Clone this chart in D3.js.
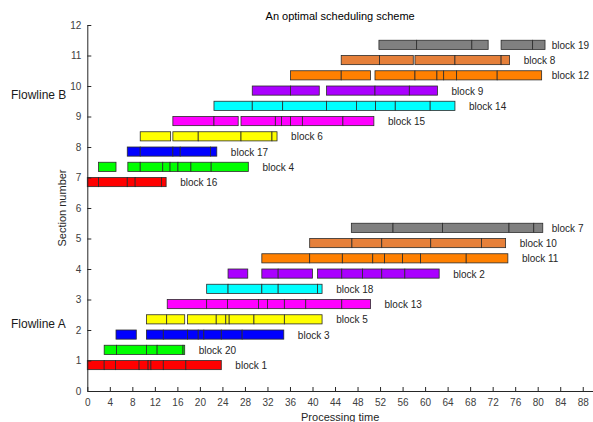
<!DOCTYPE html>
<html>
<head>
<meta charset="utf-8">
<script src="https://cdn.jsdelivr.net/npm/d3@7"></script>
<style>
  body { margin: 0; background: #fff; }
  svg { font-family: "Liberation Sans", Arial, sans-serif; }
</style>
</head>
<body>
<div id="chart"></div>
<script>
// block ids in drawing order, the row each one sits on, and its colour
const blockIds = [1, 20, 3, 5, 13, 18, 2, 11, 10, 7, 16, 4, 17, 6, 15, 14, 9, 12, 8, 19];
const blockRows = [1, 1.5, 2, 2.5, 3, 3.5, 4, 4.5, 5, 5.5, 7, 7.5, 8, 8.5, 9, 9.5, 10, 10.5, 11, 11.5];
const blockColors = [
  '#ff0000', '#00ff00', '#0000ff', '#ffff00', '#ff00ff', '#00ffff', '#aa00ff', '#ff8000', '#e6803a', '#808080',
  '#ff0000', '#00ff00', '#0000ff', '#ffff00', '#ff00ff', '#00ffff', '#aa00ff', '#ff8000', '#e6803a', '#808080',
];
// each block: list of pieces, each piece is the list of operation boundaries
const blockPieces = [
  [[0, 3, 5, 9.2, 10.8, 11.3, 13.5, 17.5, 23.8]],
  [[3, 5.2, 10.5, 12.4, 17, 17.3]],
  [[5.1, 8.7], [10.5, 13.5, 17.8, 19.7, 20.7, 23.8, 27.5, 34.9]],
  [[10.5, 14.1, 17.3], [17.8, 22.9, 24.6, 25.2, 29.6, 35, 41.7]],
  [[14.2, 21.2, 24.9, 30.4, 32, 35, 38.8, 45.2, 50.3]],
  [[21.2, 25, 31, 33.9, 40.9, 41.7]],
  [[25, 28.5], [31, 33.9, 40], [40.9, 45.2, 48.9, 52.3, 56.4, 62.5]],
  [[31, 39.5, 45.3, 50.7, 52.8, 56, 59.2, 67.3, 74.7]],
  [[39.5, 47, 52.3, 61, 70, 74.3]],
  [[46.9, 54.3, 63.1, 74.9, 79.3, 80.9]],
  [[0, 2, 7.1, 8.5, 13.2, 14]],
  [[2, 5.1], [7.2, 9.4, 13.4, 14.7, 16.1, 18.4, 22, 28.6]],
  [[7.1, 9.4, 15.2, 16.5, 21.9, 23]],
  [[9.4, 14.8], [15.2, 19.7, 27.3, 32.8, 33.7]],
  [[15.2, 22.5, 26.8], [27.3, 33.4, 34.5, 36.1, 38.2, 45.4, 50.9]],
  [[22.5, 29.3, 34.7, 42.5, 47.8, 51.2, 54.7, 60.9, 65.3]],
  [[29.3, 36.1, 41.2], [42.5, 51.1, 57.2, 62.2]],
  [[36.1, 45.1, 50.3], [51.1, 58.2, 62.1, 63.3, 65.6, 72.8, 80.7]],
  [[45.1, 51.9, 57.9], [58.2, 65.3, 73.5, 75]],
  [[51.8, 58.5, 68.3, 71.2], [73.5, 79.1, 81.3]],
];
const xTicks = d3.range(0, 89, 4);
const yTicks = d3.range(0, 13, 1);
const groupLabels = [{ text: 'Flowline B', y: 9.7 }, { text: 'Flowline A', y: 2.2 }];

const W = 593;
const H = 422;
const margin = { top: 25, right: -1, bottom: 31, left: 87.3 };

const x = d3.scaleLinear().domain([0, 90]).range([margin.left, W - margin.right]);
const y = d3.scaleLinear().domain([0, 12]).range([H - margin.bottom, margin.top]);
const barH = 0.3;

const svg = d3.select('#chart').append('svg')
  .attr('width', W)
  .attr('height', H);

// bars: one rect per operation
blockIds.forEach((id, i) => {
  const row = blockRows[i];
  const g = svg.append('g');
  const ops = [];
  blockPieces[i].forEach((piece) => {
    d3.pairs(piece).forEach(([a, b]) => ops.push([a, b]));
  });
  g.selectAll('rect')
    .data(ops)
    .join('rect')
    .attr('x', d => x(d[0]))
    .attr('y', y(row))
    .attr('width', d => x(d[1]) - x(d[0]))
    .attr('height', y(row - barH) - y(row))
    .attr('fill', blockColors[i])
    .attr('stroke', '#2b2b2b')
    .attr('stroke-width', 0.8);

  const end = d3.max(blockPieces[i], p => d3.max(p));
  svg.append('text')
    .attr('x', x(Math.min(end + 2.5, 82.5)))
    .attr('y', y(row - barH / 2) + 4)
    .attr('font-size', 10)
    .attr('fill', '#262626')
    .text(`block ${id}`);
});

// axes, ticks pointing inward
const xAxis = svg.append('g')
  .attr('transform', `translate(0,${y(0)})`)
  .call(d3.axisBottom(x).tickValues(xTicks).tickSizeInner(-4).tickSizeOuter(0).tickPadding(8));
const yAxis = svg.append('g')
  .attr('transform', `translate(${x(0)},0)`)
  .call(d3.axisLeft(y).tickValues(yTicks).tickSizeInner(-4).tickSizeOuter(0).tickPadding(6));

[xAxis, yAxis].forEach((ax) => {
  ax.select('.domain').attr('stroke', '#262626');
  ax.selectAll('.tick line').attr('stroke', '#262626');
  ax.selectAll('.tick text')
    .attr('font-size', 10)
    .attr('font-family', '"Liberation Sans", Arial, sans-serif')
    .attr('fill', '#404040');
});

svg.append('text')
  .attr('x', (x(0) + W) / 2)
  .attr('y', 20)
  .attr('text-anchor', 'middle')
  .attr('font-size', 11)
  .attr('fill', '#000')
  .text('An optimal scheduling scheme');

svg.append('text')
  .attr('x', (x(0) + W) / 2)
  .attr('y', 421)
  .attr('text-anchor', 'middle')
  .attr('font-size', 11)
  .attr('fill', '#262626')
  .text('Processing time');

svg.append('text')
  .attr('transform', `translate(66,${(y(0) + y(12)) / 2}) rotate(-90)`)
  .attr('text-anchor', 'middle')
  .attr('font-size', 11)
  .attr('fill', '#262626')
  .text('Section number');

svg.selectAll('.group-label')
  .data(groupLabels)
  .join('text')
  .attr('class', 'group-label')
  .attr('x', 11)
  .attr('y', d => y(d.y) + 4)
  .attr('font-size', 12)
  .attr('fill', '#1a1a1a')
  .text(d => d.text);
</script>
</body>
</html>
